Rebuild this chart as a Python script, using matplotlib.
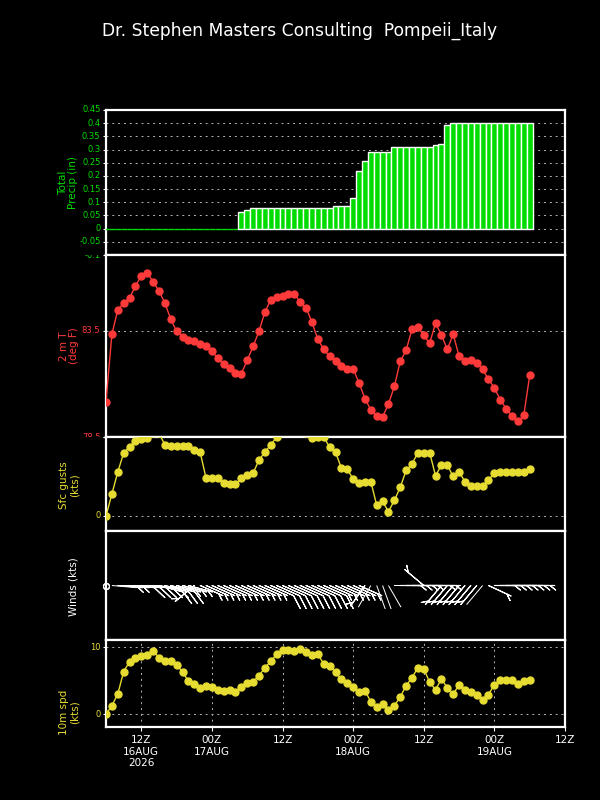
import numpy as np
import matplotlib
matplotlib.use('Agg')
import matplotlib.pyplot as plt
from matplotlib.transforms import Bbox, TransformedBbox, blended_transform_factory

# forecast hours since 06Z 16 AUG 2026
hours = list(range(73))

precip = [0.0, 0.0, 0.0, 0.0, 0.0, 0.0, 0.0, 0.0, 0.0, 0.0,
          0.0, 0.0, 0.0, 0.0, 0.0, 0.0, 0.0, 0.0, 0.0, 0.0,
          0.0, 0.0, 0.0, 0.065, 0.071, 0.079, 0.079, 0.079, 0.079, 0.079,
          0.079, 0.079, 0.079, 0.079, 0.079, 0.079, 0.079, 0.079, 0.079, 0.085,
          0.085, 0.085, 0.115, 0.217, 0.256, 0.29, 0.29, 0.29, 0.29, 0.308,
          0.308, 0.308, 0.308, 0.308, 0.308, 0.308, 0.317, 0.322, 0.393, 0.40,
          0.40, 0.40, 0.40, 0.40, 0.40, 0.40, 0.40, 0.40, 0.40, 0.40,
          0.40, 0.40, 0.40]

temp = [80.16, 83.34, 84.48, 84.81, 85.03, 85.62, 86.09, 86.24, 85.81, 85.38,
        84.81, 84.05, 83.48, 83.23, 83.06, 83.03, 82.87, 82.77, 82.54, 82.20,
        81.92, 81.73, 81.52, 81.49, 82.11, 82.77, 83.48, 84.39, 84.95, 85.07,
        85.14, 85.24, 85.24, 84.86, 84.59, 83.90, 83.10, 82.63, 82.30, 82.08,
        81.82, 81.68, 81.70, 81.05, 80.31, 79.78, 79.50, 79.45, 80.05, 80.88,
        82.06, 82.58, 83.58, 83.67, 83.28, 82.91, 83.86, 83.31, 82.63, 83.34,
        82.30, 82.08, 82.11, 81.98, 81.68, 81.22, 80.80, 80.26, 79.83, 79.50,
        79.23, 79.53, 81.40]

gusts = [0.0, 2.78, 5.56, 7.99, 8.76, 9.53, 9.70, 9.83, 10.5, 10.5,
         9.02, 8.89, 8.89, 8.89, 8.89, 8.33, 8.08, 4.79, 4.79, 4.79,
         4.15, 4.06, 4.02, 4.79, 5.21, 5.43, 7.09, 8.08, 9.02, 10.0,
         10.6, 10.8, 10.9, 10.7, 10.5, 9.87, 9.96, 9.96, 8.76, 8.08,
         6.07, 5.94, 4.66, 4.23, 4.36, 4.36, 1.37, 1.84, 0.56, 1.97,
         3.63, 5.77, 6.58, 8.03, 8.03, 8.03, 5.09, 6.45, 6.45, 5.00,
         5.56, 4.36, 3.80, 3.80, 3.80, 4.57, 5.43, 5.60, 5.56, 5.56,
         5.56, 5.56, 5.98]

wspd = [0.0, 1.29, 3.03, 6.37, 7.86, 8.46, 8.76, 8.86, 9.50, 8.46,
        8.01, 8.01, 7.36, 6.37, 4.93, 4.58, 3.98, 4.28, 4.08, 3.63,
        3.53, 3.63, 3.38, 4.13, 4.63, 4.88, 5.77, 6.97, 7.91, 9.00,
        9.60, 9.60, 9.50, 9.75, 9.30, 8.86, 8.96, 7.56, 7.26, 6.27,
        5.22, 4.63, 4.08, 3.33, 3.53, 1.89, 1.04, 1.49, 0.70, 1.29,
        2.59, 4.28, 5.47, 6.97, 6.82, 4.78, 3.68, 5.27, 3.98, 3.03,
        4.38, 3.58, 3.38, 2.89, 2.09, 2.94, 4.43, 5.12, 5.07, 5.07,
        4.58, 4.93, 5.12]

wdir = [90, 95, 95, 95, 95, 95, 95, 95, 95, 105,
        105, 105, 105, 105, 105, 230, 114, 114, 114, 114,
        114, 114, 114, 114, 114, 114, 114, 114, 114, 114,
        114, 114, 114, 114, 114, 114, 114, 114, 114, 114,
        114, 114, 114, 114, 215, 210, 160, 160, 150, 90,
        90, 90, 90, 90, 310, 90, 90, 220, 220, 220,
        220, 220, 220, 220, 220, 115, 90, 90, 90, 90,
        90, 90, 90]

xtick_pos = [6, 18, 30, 42, 54, 66, 78]
xtick_lab = ['12Z\n16AUG\n2026', '00Z\n17AUG', '12Z', '00Z\n18AUG', '12Z', '00Z\n19AUG', '12Z']

precip_ticks = [-0.1, -0.05, 0, 0.05, 0.1, 0.15, 0.2, 0.25, 0.3, 0.35, 0.4, 0.45]
precip_lab = ['-0.1', '-0.05', '0', '0.05', '0.1', '0.15', '0.2', '0.25', '0.3', '0.35', '0.4', '0.45']
temp_ticks = [78.5, 83.5]
temp_lab = ['78.5', '83.5']
gust_ticks = [0, 10]
gust_lab = ['0', '']
spd_ticks = [0, 10]
spd_lab = ['0', '10']

title = 'Dr. Stephen Masters Consulting  Pompeii_Italy'

GREEN = '#00dc00'
RED = '#ff3a3a'
YEL = '#e6dc32'
GRID = '#b4b4b4'

W, H = 600, 800
fig = plt.figure(figsize=(6, 8), dpi=100, facecolor='black')

def px_axes(top, bottom, left=106, right=565):
    return fig.add_axes([left / W, 1 - bottom / H, (right - left) / W, (bottom - top) / H])

ax1 = px_axes(110, 255)
ax2 = px_axes(255, 437)
ax3 = px_axes(437, 531)
ax4 = px_axes(531, 640)
ax5 = px_axes(640, 727)
axes = [ax1, ax2, ax3, ax4, ax5]

for ax in axes:
    ax.set_facecolor('black')
    for s in ax.spines.values():
        s.set_color('white')
        s.set_linewidth(1.6)
    ax.set_xlim(0, 78)
    ax.set_xticks(xtick_pos)
    ax.tick_params(axis='x', length=0, labelbottom=False)
    ax.tick_params(axis='y', direction='out', length=2.5, width=0.8, color='white', labelleft=False)
    ax.grid(axis='y', color=GRID, linestyle=(0, (2, 4)), linewidth=0.7)
    ax.set_axisbelow(True)

def ylabels(ax, ticks, labels, color):
    ax.set_yticks(ticks)
    tr = blended_transform_factory(fig.transFigure, ax.transData)
    out = {}
    for tk, lb in zip(ticks, labels):
        out[lb] = fig.text(100.5 / W, tk, lb, transform=tr, ha='right', va='center',
                           color=color, fontsize=6)
    return out

def clip_fig(t, y0px, y1px):
    t.set_clip_box(TransformedBbox(Bbox([[0, 1 - y1px / H], [1, 1 - y0px / H]]), fig.transFigure))
    t.set_clip_on(True)

# Panel 1: precipitation
edge = ['white' if p > 0 else GREEN for p in precip]
ax1.bar(hours, precip, width=1.0, color=GREEN, edgecolor=edge, linewidth=1.0, zorder=3)
ax1.set_ylim(-0.1, 0.45)
l1 = ylabels(ax1, precip_ticks, precip_lab, GREEN)
clip_fig(l1['-0.1'], 255, 800)

# Panel 2: temperature
ax2.plot(hours, temp, color=RED, marker='o', markersize=5, linewidth=1, zorder=3)
ax2.set_ylim(78.5, 87.07)
l2 = ylabels(ax2, temp_ticks, temp_lab, RED)
clip_fig(l2['78.5'], 0, 437)

# Panel 3: gusts
ax3.plot(hours, gusts, color=YEL, marker='o', markersize=5, linewidth=1, zorder=3)
ax3.set_ylim(-1.9, 10.0)
ylabels(ax3, gust_ticks, gust_lab, YEL)

# Panel 4: wind barbs
hr = np.array(hours, dtype=float)
d = np.deg2rad(np.array(wdir, dtype=float))
s = np.array(wspd)
u = -s * np.sin(d)
v = -s * np.cos(d)
strong = s >= 2.5
calm = s == 0
light = (s > 0) & (s < 2.5)
ax4.barbs(hr[strong], np.zeros(strong.sum()), u[strong], v[strong], length=6, color='white',
          linewidth=0.8, sizes=dict(width=0.9, height=0.36), zorder=3, clip_on=False)
ax4.barbs(hr[calm], np.zeros(calm.sum()), u[calm], v[calm], length=6, color='white',
          linewidth=0.8, sizes=dict(emptybarb=0.12), zorder=3, clip_on=False)
# light winds: bare staff pointing to where the wind comes from
ax4.quiver(hr[light], np.zeros(light.sum()), np.sin(d[light]), np.cos(d[light]),
           angles='uv', scale_units='dots', scale=1 / 25.0, units='dots', width=1.0,
           headwidth=0, headlength=0, headaxislength=0, color='white', zorder=3)
ax4.set_ylim(-1, 1)
ax4.set_yticks([])
ax4.grid(False)

# Panel 5: 10 m speed
ax5.plot(hours, wspd, color=YEL, marker='o', markersize=5, linewidth=1, zorder=3)
ax5.set_ylim(-1.9, 11.1)
ylabels(ax5, spd_ticks, spd_lab, YEL)
ax5.grid(axis='both', color=GRID, linestyle=(0, (2, 4)), linewidth=0.7)
ax5.set_xticklabels(xtick_lab)
ax5.tick_params(axis='x', direction='out', length=3, width=0.8, color='white',
                labelbottom=True, labelcolor='white', labelsize=7.5, pad=3)
for lab in ax5.get_xticklabels():
    lab.set_linespacing(1.15)

# axis titles
lab_kw = dict(rotation=90, ha='center', va='center', multialignment='center',
              fontsize=7.5, linespacing=1.1)
fig.text(68 / W, 1 - 183 / H, 'Total\nPrecip (in)', color=GREEN, **lab_kw)
fig.text(69 / W, 1 - 346 / H, '2 m T\n(deg F)', color=RED, **lab_kw)
fig.text(69 / W, 1 - 485 / H, 'Sfc gusts\n(kts)', color=YEL, **lab_kw)
fig.text(73 / W, 1 - 587 / H, 'Winds (kts)', color='white', **lab_kw)
fig.text(69 / W, 1 - 712 / H, '10m spd\n(kts)', color=YEL, **lab_kw)

fig.text(0.5, 1 - 31 / H, title, ha='center', va='center', color='white', fontsize=12.3)

fig.savefig('out.png', dpi=100, facecolor='black')
